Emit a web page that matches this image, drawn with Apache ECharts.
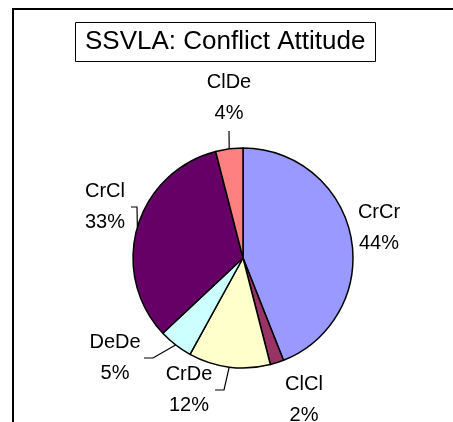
<!DOCTYPE html>
<html>
<head>
<meta charset="utf-8">
<script src="https://cdn.jsdelivr.net/npm/echarts@6/dist/echarts.min.js"></script>
<style>
  html, body { margin: 0; padding: 0; background: #fff; overflow: hidden; }
  #attitude-wrapper { width: 453px; height: 422px; }
</style>
</head>
<body>
<div id="attitude-wrapper"></div>
<script>
// slice names, clockwise from 12 o'clock
const categories = ['CrCr', 'ClCl', 'CrDe', 'DeDe', 'CrCl', 'ClDe'];
// percentages
const shares = [44, 2, 12, 5, 33, 4];
const sliceColors = ['#9999FF', '#993366', '#FFFFCC', '#CCFFFF', '#660066', '#FF8080'];
const withLeader = ['CrDe', 'DeDe', 'CrCl', 'ClDe'];

// where excel dropped each label (text centre), plus leader bends
const labelSpots = {
    CrCr: { x: 379, y: 228 },
    ClCl: { x: 304, y: 400 },
    CrDe: { x: 189, y: 390, line: [[224, 390], [215, 390]] },
    DeDe: { x: 115, y: 358, line: [[153, 358], [144, 358]] },
    CrCl: { x: 105, y: 207, line: [[137, 207], [131, 207]] },
    ClDe: { x: 229, y: 98, line: [[229, 131]] }
};

const font = "'Liberation Sans', Arial, sans-serif";

var myChart = echarts.init(document.getElementById('attitude-wrapper'));

var option = {
    backgroundColor: '#fff',
    animation: false,
    graphic: [{
        type: 'rect',
        z: -1,
        shape: { x: 13, y: 9, width: 520, height: 520 },
        style: { fill: 'none', stroke: '#000', lineWidth: 2 }
    }],
    title: {
        text: 'SSVLA: Conflict Attitude',
        left: 75,
        top: 22,
        padding: [7, 10, 7, 10],
        borderColor: '#000',
        borderWidth: 1,
        textStyle: {
            fontFamily: font,
            fontSize: 26,
            fontWeight: 'normal',
            color: '#000'
        }
    },
    series: [{
        type: 'pie',
        center: [243, 258],
        radius: 110,
        startAngle: 90,
        clockwise: true,
        avoidLabelOverlap: false,
        itemStyle: { borderColor: '#000', borderWidth: 1.5 },
        emphasis: { disabled: true },
        label: {
            show: true,
            position: 'outside',
            formatter: '{b}\n{c}%',
            fontFamily: font,
            fontSize: 20,
            lineHeight: 31,
            color: '#000',
            align: 'center'
        },
        labelLine: {
            show: true,
            length: 10,
            length2: 10,
            lineStyle: { color: '#000', width: 1.2 }
        },
        labelLayout: function (params) {
            const name = categories[params.dataIndex];
            const spot = labelSpots[name];
            const out = { x: spot.x, y: spot.y, align: 'center', verticalAlign: 'middle' };
            if (spot.line) {
                const edge = params.labelLinePoints ? params.labelLinePoints[0] : spot.line[0];
                out.labelLinePoints = [edge].concat(spot.line);
            }
            return out;
        },
        data: categories.map(function (name, i) {
            return {
                name: name,
                value: shares[i],
                itemStyle: { color: sliceColors[i] },
                labelLine: { show: withLeader.indexOf(name) >= 0 }
            };
        })
    }]
};

option && myChart.setOption(option);
</script>
</body>
</html>
